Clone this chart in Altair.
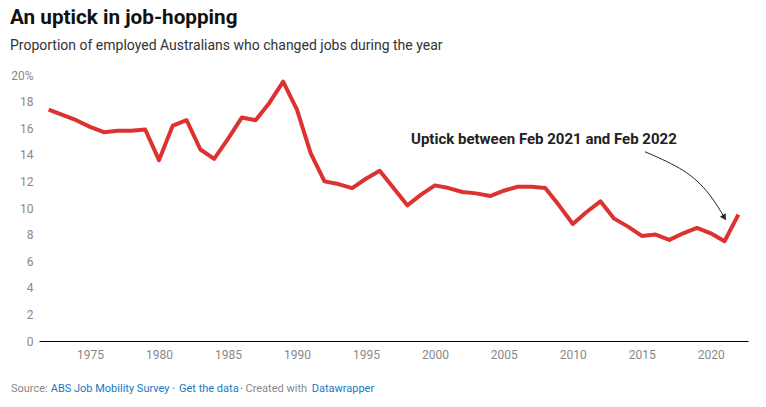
import altair as alt
import pandas as pd

years = list(range(1972, 2023))
share = [17.4, 17.0, 16.6, 16.1, 15.7, 15.8, 15.8, 15.9, 13.6, 16.2,
         16.6, 14.4, 13.7, 15.2, 16.8, 16.6, 17.9, 19.5, 17.4, 14.1,
         12.0, 11.8, 11.5, 12.2, 12.8, 11.5, 10.2, 11.0, 11.7, 11.5,
         11.2, 11.1, 10.9, 11.3, 11.6, 11.6, 11.5, 10.2, 8.8, 9.7,
         10.5, 9.2, 8.6, 7.9, 8.0, 7.6, 8.1, 8.5, 8.1, 7.5, 9.5]

x_ticks = [1975, 1980, 1985, 1990, 1995, 2000, 2005, 2010, 2015, 2020]
y_ticks = [0, 2, 4, 6, 8, 10, 12, 14, 16, 18, 20]

annotation_text = ["Uptick between Feb 2021 and Feb 2022"]
annotation_year = [1998.27]
annotation_value = [15.19]

arrow_year = [2015.23, 2018.26, 2019.95, 2021.1]
arrow_value = [14.23, 12.86, 11.1, 9.1]
arrowhead_year = [2020.98]
arrowhead_value = [9.29]

FONT = "Roboto"
RED = "#dc3330"
GREY = "#888888"
BLUE = "#1a78c2"

df = pd.DataFrame({"year": years, "share": share})
ann = pd.DataFrame({"year": annotation_year, "share": annotation_value, "label": annotation_text})
arrow = pd.DataFrame({"year": arrow_year, "share": arrow_value, "order": list(range(len(arrow_year)))})
head = pd.DataFrame({"year": arrowhead_year, "share": arrowhead_value})

xscale = alt.Scale(domain=[1971.3, 2022.7], nice=False, zero=False)
yscale = alt.Scale(domain=[0, 20], nice=False)

x_axis = alt.Axis(
    values=x_ticks, format="d", title=None, grid=False, ticks=False,
    domainColor="#000000", domainWidth=1, labelColor=GREY, labelFontSize=12,
    labelFont=FONT, labelPadding=8, labelOverlap=False)
y_axis = alt.Axis(
    values=y_ticks, title=None, grid=False, ticks=False, domain=False,
    labelColor=GREY, labelFontSize=12, labelFont=FONT, labelPadding=6,
    labelOverlap=False,
    labelExpr="datum.value == 20 ? '20%' : datum.label")

x_enc = alt.X("year:Q", scale=xscale, axis=x_axis)
y_enc = alt.Y("share:Q", scale=yscale, axis=y_axis)

line = alt.Chart(df).mark_line(color=RED, strokeWidth=4, strokeJoin="round").encode(x=x_enc, y=y_enc)

ann_text = alt.Chart(ann).mark_text(align="left", baseline="middle", font=FONT, fontSize=15,
                                    fontWeight="bold", color="#222222").encode(
    x=x_enc, y=y_enc, text="label:N")

arrow_line = alt.Chart(arrow).mark_line(color="#222222", strokeWidth=1, interpolate="basis").encode(
    x=x_enc, y=y_enc, order="order:Q")

arrow_head = alt.Chart(head).mark_point(shape="triangle-up", filled=True, color="#222222",
                                        size=45, angle=149, opacity=1).encode(x=x_enc, y=y_enc)

one = alt.Data(values=[{"a": 1}])

def txt(s, x, y, size, color, weight="normal", align="left"):
    return alt.Chart(one).mark_text(align=align, baseline="alphabetic", font=FONT, fontSize=size,
                                    fontWeight=weight, color=color).encode(
        x=alt.value(x), y=alt.value(y), text=alt.value(s))

title = txt("An uptick in job-hopping", -29, -51, 20.7, "#111111", "bold")
subtitle = txt("Proportion of employed Australians who changed jobs during the year", -29, -25, 14, "#333333")
f1 = txt("Source:", -28, 317, 11, GREY)
f2 = txt("ABS Job Mobility Survey", 11.7, 317, 11, BLUE)
f3 = txt("•", 134.5, 316, 8, GREY, align="center")
f4 = txt("Get the data", 140, 317, 11, BLUE)
f5 = txt("•", 202.7, 316, 8, GREY, align="center")
f6 = txt("Created with", 206.5, 317, 11, GREY)
f7 = txt("Datawrapper", 272.7, 317, 11, BLUE)

chart = alt.layer(line, arrow_line, arrow_head, ann_text, title, subtitle, f1, f2, f3, f4, f5, f6, f7).properties(
    width=709, height=266,
    padding={"left": 31, "top": 67, "right": 10, "bottom": 55},
    autosize=alt.AutoSizeParams(type="none"),
).configure(background="white", view=alt.ViewConfig(stroke=None))

chart.save("out.html", embed_options={"renderer": "svg", "actions": False})
